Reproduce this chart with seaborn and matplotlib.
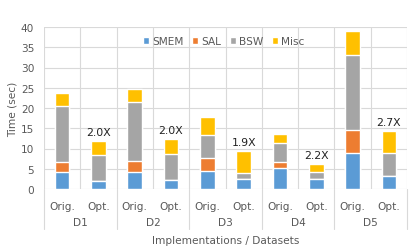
import matplotlib
matplotlib.use("Agg")
import matplotlib.pyplot as plt
import matplotlib.transforms as mtrans
import seaborn as sns
import pandas as pd
import numpy as np

datasets = ["D1", "D2", "D3", "D4", "D5"]
impls = ["Orig.", "Opt."]
components = ["SMEM", "SAL", "BSW", "Misc"]
colors = ["#5B9BD5", "#ED7D31", "#A5A5A5", "#FFC000"]

# values per bar, order: D1 Orig, D1 Opt, D2 Orig, ...
smem = [4.1, 2.05, 4.2, 2.2, 4.4, 2.4, 5.2, 2.5, 9.0, 3.3]
sal = [2.6, 0.0, 2.8, 0.0, 3.2, 0.0, 1.5, 0.0, 5.5, 0.0]
bsw = [13.9, 6.35, 14.5, 6.4, 5.8, 1.6, 4.6, 1.7, 18.7, 5.7]
misc = [3.1, 3.4, 3.2, 3.7, 4.5, 5.4, 2.3, 2.0, 5.9, 5.3]
speedups = ["2.0X", "2.0X", "1.9X", "2.2X", "2.7X"]

sns.set_theme(style="white")
plt.rcParams['font.family'] = ['DejaVu Sans']

cols = [f"{d} {i}" for d in datasets for i in impls]
df = pd.DataFrame({"col": cols, "SMEM": smem, "SAL": sal, "BSW": bsw, "Misc": misc})
cum = df[components].cumsum(axis=1)

fig = plt.figure(figsize=(4.15, 2.53), dpi=100)
ax = fig.add_axes([44/415, 1-190/253, (407-44)/415, (190-28)/253])

for comp, c in reversed(list(zip(components, colors))):
    sns.barplot(x=df["col"], y=cum[comp], order=cols, color=c, width=0.4,
                saturation=1, ax=ax, label=comp, zorder=3)

ax.set_xlim(-0.5, len(cols) - 0.5)
ax.set_ylim(0, 40)
ax.set_yticks(np.arange(0, 41, 5))
ax.set_xticks(range(len(cols)))
ax.set_xticklabels([c.split(" ")[1] for c in cols])
ax.set_xticks(np.arange(-0.5, len(cols), 1.0), minor=True)
ax.grid(True, axis="y", which="major", color="#D9D9D9", lw=0.8, zorder=0)
ax.grid(True, axis="x", which="minor", color="#D9D9D9", lw=0.8, zorder=0)
ax.grid(False, axis="x", which="major")
ax.set_axisbelow(True)
for s in ax.spines.values():
    s.set_visible(False)
ax.tick_params(axis="both", which="both", length=0, labelsize=7.6, labelcolor="#595959")
ax.tick_params(axis="x", pad=9)
ax.tick_params(axis="y", pad=7)
ax.set_ylabel("Time (sec)", fontsize=7.6, color="#595959", labelpad=2)
ax.set_xlabel("")

tr = mtrans.blended_transform_factory(ax.transData, ax.transAxes)
for k in range(len(datasets) + 1):
    x = -0.5 + 2 * k
    ax.plot([x, x], [0, -40/162], transform=tr, color="#D9D9D9", lw=0.8, clip_on=False)
for k, d in enumerate(datasets):
    ax.text(2 * k + 0.5, -33/162, d, transform=tr, ha="center", va="center",
            fontsize=7.6, color="#595959")
ax.text(0.5, -50.7/162, "Implementations / Datasets", transform=ax.transAxes,
        ha="center", va="center", fontsize=7.6, color="#595959")

totals = cum["Misc"].values
for k, s in enumerate(speedups):
    xi = 2 * k + 1
    ax.annotate(s, (xi, totals[xi]), xytext=(0, 3), textcoords="offset points",
                ha="center", va="bottom", fontsize=7.8, color="#222222")

handles, labels = ax.get_legend_handles_labels()
order = [labels.index(c) for c in components]
ax.legend([handles[i] for i in order], [labels[i] for i in order],
          loc="upper center", bbox_to_anchor=(0.495, 1.0), ncol=4, frameon=False,
          fontsize=7.6, handlelength=0.6, handleheight=0.6, handletextpad=0.3,
          columnspacing=0.8, labelcolor="#595959")

fig.savefig("out.png", dpi=100)
